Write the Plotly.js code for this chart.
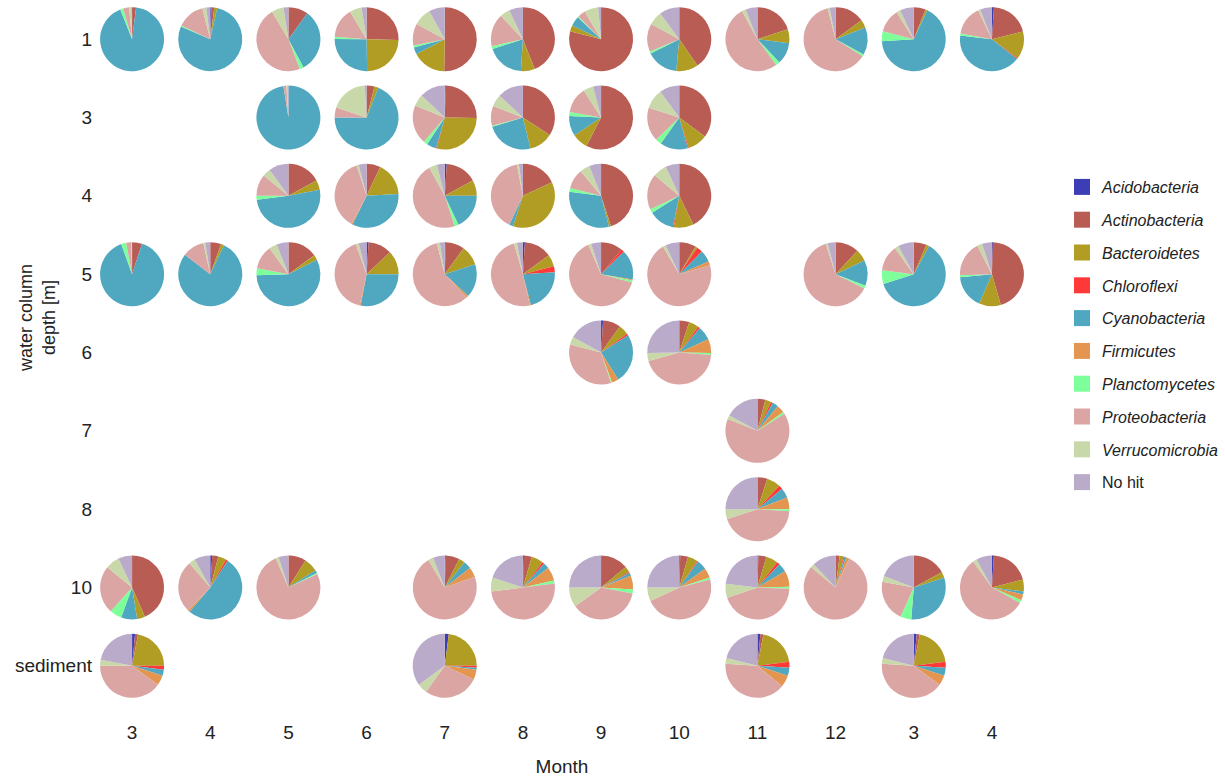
<!DOCTYPE html>
<html>
<head>
<meta charset="utf-8">
<script src="https://cdn.plot.ly/plotly-3.0.1.min.js"></script>
<style>html,body{margin:0;padding:0;background:#fff;}#chart{width:1225px;height:781px;}</style>
</head>
<body>
<div id="chart"></div>
<script>
// Month columns and depth rows
const months = ['3','4','5','6','7','8','9','10','11','12','3','4'];
const depths = ['1','3','4','5','6','7','8','10','sediment'];
const phyla = ['Acidobacteria','Actinobacteria','Bacteroidetes','Chloroflexi','Cyanobacteria','Firmicutes','Planctomycetes','Proteobacteria','Verrucomicrobia','No hit'];
const legendNames = ['<i>Acidobacteria</i>','<i>Actinobacteria</i>','<i>Bacteroidetes</i>','<i>Chloroflexi</i>','<i>Cyanobacteria</i>','<i>Firmicutes</i>','<i>Planctomycetes</i>','<i>Proteobacteria</i>','<i>Verrucomicrobia</i>','No hit'];
const phylaColors = ['#3d3db6','#b95c54','#b19d24','#ff3838','#4fa8bf','#e4954f','#7dff9a','#dba5a3','#c8d8a8','#bbabcb'];

// Relative abundance (%) per sample, phyla order as above; null = no sample
const depth1 = [
  [0,2,0,0,92,0,1.5,3,1,0.5],
  [0.5,1.5,1.5,0,78,0,0.5,14,2,2],
  [0,10,0,0,32,0,2,47,6,2.5],
  [0,25,24,0,25,0,1,15,6,2.5],
  [0,50,17,0,3.5,0,1,11,9,8],
  [0,44,7,0,19,0,1.5,16.5,5,7],
  [0,79,3,0,5,0,0.5,4,7,1.5],
  [0,40,11,0,16,0,1,14,7,10],
  [0,20,7,0,11,0,2,52,2,6],
  [0,15,4,0,14,0,1,62,1,3],
  [0,6,1,0,67,0,5,12,2,7],
  [1,20,14,0.5,41,0,1,15,1,6]
];
const depth3 = [
  null, null,
  [0,0,0,0,97.5,0,0,1.5,0.5,0.5],
  [0,4,2,0,69,0,0,5,19,1],
  [0.5,25,29,0.3,5,0,2,20,6,13],
  [0,34,12,0,24,0,0.5,10,6,13],
  [0,57,8,0,10,0,2,13,5,4],
  [0,35,10,0.5,14,0,3,17,10,10],
  null, null, null, null
];
const depth4 = [
  null, null,
  [0,17,5,0,51,0,2,11,4,10],
  [0,7,17,0,33,0.5,0,37,1,4],
  [1,16,8,0,18,0,2,47,4,4],
  [0,18,37,0,2,0,0,40,1,2],
  [0,45,1,0,31,0,2,10,5,6],
  [0,43,10,0.5,13,0,2,18,7,7],
  null, null, null, null
];
const depth5 = [
  [0,5,0,0,89.5,0,2.5,2.5,0.5,0],
  [0,5.5,1.5,0,78,0,0,11,1,2.5],
  [0,15,2.5,0,57,0,3.5,12,4,6],
  [1,12,12,0,28,0.5,0,41,1.5,4],
  [0.5,9.5,10,0,17,1,0,58,1.5,2.5],
  [1,14,6,3,22,0.5,0,49,1.5,3],
  [0,11,0,1.5,15,0.5,1,64,1.5,5],
  [0,8.5,1,3,6,2,0,71,1.5,7],
  null,
  [0,12,6,0,13,0,1.5,63,1,4],
  [0,6.5,1.5,0,62,0,7,13,2,8],
  [0.5,45,11,0,17,0,1,18,2.5,5]
];
const depth6 = [
  null, null, null, null, null, null,
  [1,9,5,1,25,3.5,0.5,34,4,17],
  [0,5,5,1,7,7,1,44,4,25],
  null, null, null, null
];
const depth7 = [
  null, null, null, null, null, null, null, null,
  [0,4,3,1,3,4,1,65,2,17],
  null, null, null
];
const depth8 = [
  null, null, null, null, null, null, null, null,
  [0,5,7,2,5,6,1,44,5,25],
  null, null, null
];
const depth10 = [
  [0,43,4,0,8,0,6,24,7,7],
  [1,3,4,1,51,1,0,26,3,8],
  [0,9,7,0,1.5,0,0.5,75.5,1.5,5],
  null,
  [0.5,7,3,0,4,5,0,72,2.5,6],
  [0.5,4,6,1,3,7,1.5,50,7,20],
  [0,14,3,0.5,1.5,7,2,37,10,25],
  [0.5,4,5,0.5,5,5,1,47,7,25],
  [0.5,4,6,1.5,4.5,8,1,44,7,23],
  [0,2,2,0.5,1,1.5,0,79,2,12],
  [0,17,3,0,31,0,5.5,21,3,19],
  [1,20,6,0,1.5,3,1.5,57,2,8]
];
const sediment = [
  [1.5,1.5,22,2,3,5,0,40,3,22],
  null, null, null,
  [2,0,23,1,1,5,0,28,5,35],
  null, null, null,
  [1.5,1.5,20,3,4,6,0,40,3,21],
  null,
  [1.5,1.5,20,3,4,5,0,41,3,21],
  null
];
const rows = [depth1, depth3, depth4, depth5, depth6, depth7, depth8, depth10, sediment];

// layout geometry
const W = 1225, H = 781;
const M = {l: 93, r: 194, t: 0, b: 76};
const plotW = W - M.l - M.r, plotH = H - M.t - M.b;
const R = 32; // pie radius in px
const nC = months.length, nR = depths.length;

const traces = [];
rows.forEach((row, r) => {
  row.forEach((vals, c) => {
    if (!vals) return;
    const cx = (c + 0.5) / nC, cy = 1 - (r + 0.5) / nR;
    const hx = R / plotW, hy = R / plotH;
    traces.push({
      type: 'pie', values: vals, labels: phyla, sort: false,
      direction: 'clockwise', rotation: 0, textinfo: 'none',
      marker: {colors: phylaColors, line: {width: 0}},
      showlegend: false, hoverinfo: 'label+percent',
      name: 'Month ' + months[c] + ', ' + depths[r],
      domain: {x: [cx - hx, cx + hx], y: [cy - hy, cy + hy]}
    });
  });
});
// legend entries
phyla.forEach((p, i) => {
  traces.push({
    type: 'scatter', mode: 'markers', x: [null], y: [null],
    name: legendNames[i], legendgroup: p, showlegend: true,
    marker: {symbol: 'square', size: 20, color: phylaColors[i]}
  });
});

const layout = {
  width: W, height: H, margin: M,
  paper_bgcolor: '#fff', plot_bgcolor: '#fff',
  font: {family: 'Liberation Sans, Arial, sans-serif', color: '#222'},
  xaxis: {range: [-0.5, nC - 0.5], tickvals: months.map((m, i) => i), ticktext: months,
          showgrid: false, zeroline: false, showline: false, ticks: '',
          tickfont: {size: 19, color: '#222'}, ticklabelstandoff: 14,
          title: {text: 'Month', font: {size: 19, color: '#222'}, standoff: 17}, fixedrange: true},
  yaxis: {range: [nR - 0.5, -0.5], tickvals: depths.map((d, i) => i), ticktext: depths,
          showgrid: false, zeroline: false, showline: false, ticks: '',
          tickfont: {size: 19, color: '#222'}, fixedrange: true},
  legend: {x: (1062 - M.l) / plotW, y: 1 - 170 / plotH, xanchor: 'left', yanchor: 'top',
           traceorder: 'grouped', tracegroupgap: 9, font: {size: 16, color: '#222'}, bgcolor: 'rgba(0,0,0,0)'},
  annotations: [{text: 'water column<br>depth [m]', textangle: -90, xref: 'paper', yref: 'paper',
                 x: (37 - M.l) / plotW, y: 1 - 318 / plotH, showarrow: false,
                 font: {size: 18, color: '#222'}, xanchor: 'center', yanchor: 'middle'}],
  showlegend: true
};
Plotly.newPlot('chart', traces, layout, {displayModeBar: false, staticPlot: false});
</script>
</body>
</html>
